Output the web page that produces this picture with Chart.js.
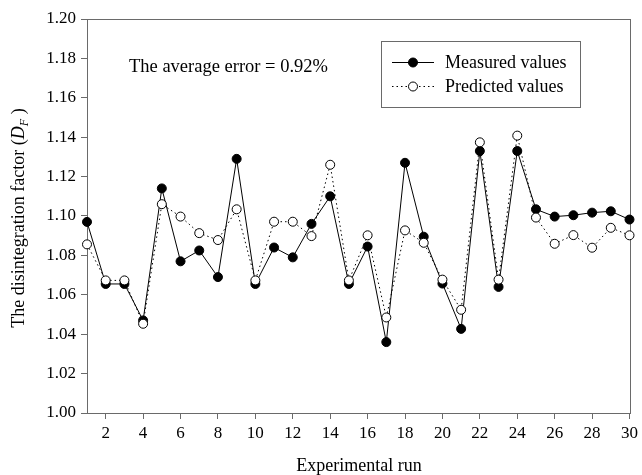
<!DOCTYPE html>
<html>
<head>
<meta charset="utf-8">
<script src="https://cdn.jsdelivr.net/npm/chart.js@4/dist/chart.umd.min.js"></script>
<style>
  html, body { margin: 0; padding: 0; background: #fff; }
  canvas { display: block; }
</style>
</head>
<body>
<canvas id="chart" width="642" height="475"></canvas>
<script>
// ─── Data ────────────────────────────────────────────────
const runs = [1, 2, 3, 4, 5, 6, 7, 8, 9, 10, 11, 12, 13, 14, 15, 16, 17, 18, 19, 20, 21, 22, 23, 24, 25, 26, 27, 28, 29, 30];
const measured  = [1.097, 1.0655, 1.0655, 1.047, 1.114, 1.077, 1.0825, 1.069, 1.129, 1.0655,
                   1.084, 1.079, 1.096, 1.110, 1.0655, 1.0845, 1.036, 1.127, 1.0895, 1.0657,
                   1.0427, 1.133, 1.064, 1.133, 1.1034, 1.0997, 1.1004, 1.1017, 1.1024, 1.0982];
const predicted = [1.0856, 1.0673, 1.0673, 1.0453, 1.106, 1.0997, 1.0913, 1.0878, 1.1034, 1.0673,
                   1.0971, 1.0971, 1.0898, 1.126, 1.0673, 1.0902, 1.0485, 1.0927, 1.0864, 1.0677,
                   1.0524, 1.1374, 1.0677, 1.1408, 1.0992, 1.0859, 1.0903, 1.0839, 1.094, 1.0902];
const xTicks = [2, 4, 6, 8, 10, 12, 14, 16, 18, 20, 22, 24, 26, 28, 30];
const yTicks = [1.00, 1.02, 1.04, 1.06, 1.08, 1.10, 1.12, 1.14, 1.16, 1.18, 1.20];
const seriesNames = ['Measured values', 'Predicted values'];
const noteText = 'The average error = 0.92%';
const xTitle = 'Experimental run';

const SERIF = '"Liberation Serif", "Times New Roman", serif';
const AXIS_GREY = '#6a6a6a';

// ─── Plugin: frame, note, legend, axis titles ────────────
const decorations = {
  id: 'decorations',
  beforeDatasetsDraw(chart) {
    const { ctx, chartArea: a } = chart;
    ctx.save();
    ctx.strokeStyle = AXIS_GREY;
    ctx.lineWidth = 1;
    ctx.strokeRect(Math.round(a.left) + 0.5, Math.round(a.top) + 0.5,
                   Math.round(a.right - a.left), Math.round(a.bottom - a.top));
    ctx.restore();
  },
  afterDraw(chart) {
    const { ctx } = chart;
    ctx.save();
    ctx.fillStyle = '#000';
    ctx.textBaseline = 'alphabetic';

    // note
    ctx.font = '18.5px ' + SERIF;
    ctx.textAlign = 'left';
    ctx.fillText(noteText, 129, 72);

    // legend box
    ctx.strokeStyle = AXIS_GREY;
    ctx.lineWidth = 1;
    ctx.strokeRect(381.5, 41.5, 199, 66);
    const rows = [
      { y: 62, dash: [], fill: '#000' },
      { y: 86, dash: [1.5, 3], fill: '#fff' }
    ];
    rows.forEach((r, i) => {
      ctx.strokeStyle = '#000';
      ctx.setLineDash(r.dash);
      ctx.beginPath();
      ctx.moveTo(392, r.y + 0.5);
      ctx.lineTo(434, r.y + 0.5);
      ctx.stroke();
      ctx.setLineDash([]);
      ctx.beginPath();
      ctx.arc(413, r.y + 0.5, 4.5, 0, Math.PI * 2);
      ctx.fillStyle = r.fill;
      ctx.fill();
      ctx.stroke();
      ctx.fillStyle = '#000';
      ctx.font = '18px ' + SERIF;
      ctx.fillText(seriesNames[i], 445, r.y + 6);
    });

    // x title
    ctx.font = '18px ' + SERIF;
    ctx.textAlign = 'center';
    ctx.fillText(xTitle, 359, 471);

    // y title with italic D and subscript F
    ctx.translate(24, 218);
    ctx.rotate(-Math.PI / 2);
    const parts = [
      { t: 'The disintegration factor (', f: '18px ' + SERIF, dy: 0 },
      { t: 'D', f: 'italic 18px ' + SERIF, dy: 0 },
      { t: 'F', f: 'italic 12px ' + SERIF, dy: 4 },
      { t: ' )', f: '18px ' + SERIF, dy: 0 }
    ];
    let total = 0;
    parts.forEach(p => { ctx.font = p.f; p.w = ctx.measureText(p.t).width; total += p.w; });
    let x = -total / 2;
    ctx.textAlign = 'left';
    parts.forEach(p => {
      ctx.font = p.f;
      ctx.fillText(p.t, x, p.dy);
      x += p.w;
    });
    ctx.restore();
  }
};

// ─── Chart ───────────────────────────────────────────────
new Chart(document.getElementById('chart').getContext('2d'), {
  type: 'line',
  data: {
    datasets: [
      {
        label: seriesNames[0],
        data: runs.map((r, i) => ({ x: r, y: measured[i] })),
        borderColor: '#000', borderWidth: 1,
        pointRadius: 4.5, pointBackgroundColor: '#000', pointBorderColor: '#000', pointBorderWidth: 1,
        tension: 0, clip: false, order: 1
      },
      {
        label: seriesNames[1],
        data: runs.map((r, i) => ({ x: r, y: predicted[i] })),
        borderColor: '#000', borderWidth: 1, borderDash: [1.5, 3],
        pointRadius: 4.5, pointBackgroundColor: '#fff', pointBorderColor: '#000', pointBorderWidth: 1,
        tension: 0, clip: false, order: 0
      }
    ]
  },
  options: {
    responsive: false, animation: false, devicePixelRatio: 1,
    layout: { padding: { top: 19, right: 9, left: 0, bottom: 0 } },
    plugins: { legend: { display: false }, tooltip: { enabled: false } },
    scales: {
      x: {
        type: 'linear', min: 1, max: 30,
        afterFit: s => { s.height = 62; },
        afterBuildTicks: s => { s.ticks = xTicks.map(v => ({ value: v })); },
        border: { display: false },
        grid: { drawOnChartArea: false, drawTicks: true, tickLength: 6, color: AXIS_GREY },
        ticks: { color: '#000', font: { family: SERIF, size: 17 }, padding: 4, maxRotation: 0, autoSkip: false }
      },
      y: {
        min: 1.0, max: 1.2,
        afterFit: s => { s.width = 87; },
        afterBuildTicks: s => { s.ticks = yTicks.map(v => ({ value: v })); },
        border: { display: false },
        grid: { drawOnChartArea: false, drawTicks: true, tickLength: 6, color: AXIS_GREY },
        ticks: { color: '#000', font: { family: SERIF, size: 17 }, padding: 5, callback: v => v.toFixed(2) }
      }
    }
  },
  plugins: [decorations]
});
</script>
</body>
</html>
